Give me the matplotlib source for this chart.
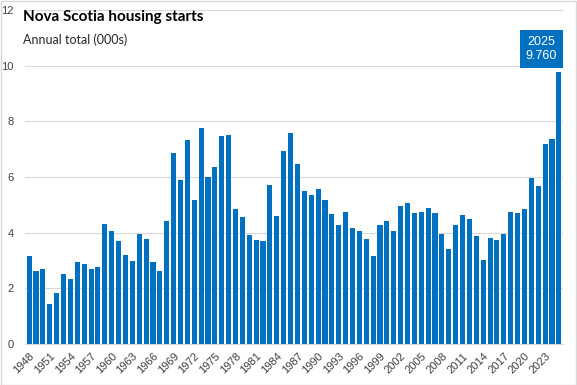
import matplotlib
matplotlib.use("Agg")
import matplotlib.pyplot as plt
from matplotlib.patches import Rectangle

years = list(range(1948, 2026))
starts = [3.16, 2.64, 2.71, 1.45, 1.85, 2.53, 2.32, 2.93, 2.86, 2.68,
          2.75, 4.30, 4.05, 3.69, 3.18, 2.97, 3.94, 3.79, 2.93, 2.61,
          4.41, 6.85, 5.88, 7.32, 5.16, 7.75, 5.99, 6.35, 7.47, 7.50,
          4.84, 4.55, 3.90, 3.72, 3.69, 5.70, 4.59, 6.93, 7.57, 6.46,
          5.49, 5.34, 5.56, 5.16, 4.66, 4.26, 4.73, 4.15, 4.05, 3.79,
          3.15, 4.26, 4.43, 4.07, 4.97, 5.08, 4.72, 4.75, 4.90, 4.72,
          3.96, 3.42, 4.29, 4.65, 4.50, 3.89, 3.03, 3.82, 3.75, 3.96,
          4.75, 4.72, 4.86, 5.98, 5.69, 7.17, 7.38, 9.76]
tick_years = list(range(1948, 2024, 3))
title = "Nova Scotia housing starts"
subtitle = "Annual total (000s)"
callout_year = 2025
callout_value = 9.760

plt.rcParams['font.family'] = ['Liberation Sans', 'DejaVu Sans']

fig = plt.figure(figsize=(5.77, 3.85), dpi=100)
ax = fig.add_axes([25/577, 1-344/385, (563-25)/577, (344-10)/385])

x = list(range(len(years)))
ax.bar(x, starts, width=0.74, color='#0070C0', zorder=3)

ax.set_ylim(0, 12)
ax.set_xlim(-0.6, len(years) - 0.4)
ax.set_yticks(range(0, 13, 2))
ax.yaxis.grid(True, color='#d9d9d9', linewidth=0.8, zorder=0)
ax.tick_params(axis='y', length=0, labelsize=8, colors='#404040', pad=8)

tick_pos = [years.index(y) for y in tick_years]
ax.set_xticks(tick_pos)
ax.set_xticklabels([str(y) for y in tick_years], rotation=45, ha='right',
                   rotation_mode='anchor', fontsize=8, color='#404040')
ax.tick_params(axis='x', length=0, pad=5)

for s in ['top', 'right', 'left']:
    ax.spines[s].set_visible(False)
ax.spines['bottom'].set_color('#d9d9d9')
ax.spines['bottom'].set_linewidth(0.8)

fig.text(23/577, 1-17/385, title, fontsize=11, fontweight='bold',
         color='black', va='center', ha='left', family=['Lato', 'DejaVu Sans'])
fig.text(23/577, 1-40/385, subtitle, fontsize=9, color='#262626',
         va='center', ha='left', family=['Lato', 'DejaVu Sans'])

idx = years.index(callout_year)
ax.annotate(f"{callout_year}\n{callout_value:.3f}", xy=(idx, callout_value),
            xytext=(-12.5, 17), textcoords='offset points',
            ha='center', va='center', fontsize=9, color='white',
            linespacing=1.2,
            bbox=dict(boxstyle='square,pad=0.5', fc='#0070C0', ec='none'),
            zorder=5)

fig.add_artist(Rectangle((0.001, 0.001), 0.997, 0.997, transform=fig.transFigure,
                         fill=False, ec='#d9d9d9', lw=1))

fig.savefig("out.png", dpi=100)
